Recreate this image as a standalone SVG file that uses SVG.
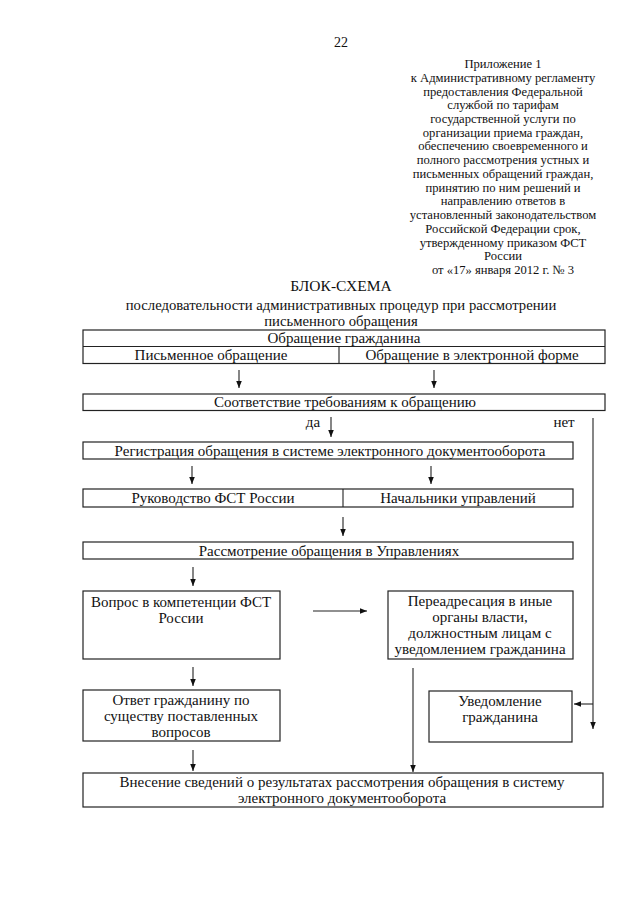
<svg xmlns="http://www.w3.org/2000/svg" width="640" height="905" viewBox="0 0 640 905">
<defs>
<marker id="ah" viewBox="0 0 8 8" refX="8" refY="4" markerWidth="7" markerHeight="7" markerUnits="userSpaceOnUse" orient="auto">
<path d="M0,0.8 L8,4 L0,7.2 Z" fill="#111"/>
</marker>
<style>
text{font-family:"Liberation Serif","Times New Roman",serif;fill:#111}
.t{font-size:15px;text-anchor:middle}
.a{font-size:12.6px;text-anchor:middle}
.b{fill:#fff;stroke:#222;stroke-width:1.2}
.c{fill:none;stroke:#222;stroke-width:1.1}
.ar{fill:none;stroke:#222;stroke-width:1.1;marker-end:url(#ah)}
</style>
</defs>
<rect width="640" height="905" fill="#fff"/>
<text x="334" y="47" style="font-size:14px">22</text>
<g id="header">
<text class="a" x="503" y="68">Приложение 1</text>
<text class="a" x="503" y="81.7">к Административному регламенту</text>
<text class="a" x="503" y="95.5">предоставления Федеральной</text>
<text class="a" x="503" y="109.2">службой по тарифам</text>
<text class="a" x="503" y="122.9">государственной услуги по</text>
<text class="a" x="503" y="136.7">организации приема граждан,</text>
<text class="a" x="503" y="150.4">обеспечению своевременного и</text>
<text class="a" x="503" y="164.1">полного рассмотрения устных и</text>
<text class="a" x="503" y="177.8">письменных обращений граждан,</text>
<text class="a" x="503" y="191.6">принятию по ним решений и</text>
<text class="a" x="503" y="205.3">направлению ответов в</text>
<text class="a" x="503" y="219">установленный законодательством</text>
<text class="a" x="503" y="232.8">Российской Федерации срок,</text>
<text class="a" x="503" y="246.5">утвержденному приказом ФСТ</text>
<text class="a" x="503" y="260.2">России</text>
<text class="a" x="503" y="274">от «17» января 2012 г. № 3</text>
</g>
<g id="title">
<text class="t" x="341" y="291" style="font-size:15.5px">БЛОК-СХЕМА</text>
<text class="t" x="341" y="309.5" style="font-size:14.7px">последовательности административных процедур при рассмотрении</text>
<text class="t" x="341" y="325.5" style="font-size:14.7px">письменного обращения</text>
</g>
<g id="connectors">
<line class="ar" x1="239" y1="370" x2="239" y2="388"/>
<line class="ar" x1="434" y1="370" x2="434" y2="388"/>
<line class="ar" x1="331" y1="417" x2="331" y2="437"/>
<line class="ar" x1="593" y1="418" x2="593" y2="729"/>
<line class="ar" x1="593" y1="704" x2="574" y2="704"/>
<line class="ar" x1="192" y1="466" x2="192" y2="484"/>
<line class="ar" x1="431" y1="466" x2="431" y2="484"/>
<line class="ar" x1="343" y1="517" x2="343" y2="536"/>
<line class="ar" x1="193" y1="567" x2="193" y2="586"/>
<line class="ar" x1="313" y1="611" x2="367" y2="611"/>
<line class="ar" x1="193" y1="667" x2="193" y2="686"/>
<line class="ar" x1="413" y1="668" x2="413" y2="772"/>
<line class="ar" x1="193" y1="750" x2="193" y2="771"/>
</g>
<g id="n-obr">
<rect class="b" x="83" y="330" width="522" height="33.5"/>
<line class="c" x1="83" y1="346.5" x2="605" y2="346.5"/>
<line class="c" x1="339" y1="346.5" x2="339" y2="363.5"/>
<text class="t" x="344" y="343">Обращение гражданина</text>
<text class="t" x="211" y="360">Письменное обращение</text>
<text class="t" x="472" y="360">Обращение в электронной форме</text>
</g>
<g id="n-sootv">
<rect class="b" x="83" y="394" width="522" height="16.5"/>
<text class="t" x="345" y="407">Соответствие требованиям к обращению</text>
</g>
<text class="t" x="313" y="427">да</text>
<text class="t" x="564" y="427">нет</text>
<g id="n-reg">
<rect class="b" x="83" y="442" width="490" height="17"/>
<text class="t" x="330" y="455.5">Регистрация обращения в системе электронного документооборота</text>
</g>
<g id="n-ruk">
<rect class="b" x="83" y="489" width="490" height="18"/>
<line class="c" x1="343" y1="489" x2="343" y2="507"/>
<text class="t" x="213" y="502.5">Руководство ФСТ России</text>
<text class="t" x="458" y="502.5">Начальники управлений</text>
</g>
<g id="n-rassm">
<rect class="b" x="83" y="542" width="490" height="17"/>
<text class="t" x="329" y="555.5">Рассмотрение обращения в Управлениях</text>
</g>
<g id="n-vopros">
<rect class="b" x="83" y="591" width="197" height="68"/>
<text class="t" x="181" y="607">Вопрос в компетенции ФСТ</text>
<text class="t" x="181" y="623">России</text>
</g>
<g id="n-pereadr">
<rect class="b" x="388" y="591" width="185" height="68"/>
<text class="t" x="480" y="606">Переадресация в иные</text>
<text class="t" x="480" y="622">органы власти,</text>
<text class="t" x="480" y="638">должностным лицам с</text>
<text class="t" x="480" y="654">уведомлением гражданина</text>
</g>
<g id="n-otvet">
<rect class="b" x="83" y="690" width="197" height="51"/>
<text class="t" x="181" y="705">Ответ гражданину по</text>
<text class="t" x="181" y="721">существу поставленных</text>
<text class="t" x="181" y="737">вопросов</text>
</g>
<g id="n-uved">
<rect class="b" x="429" y="691" width="143" height="51"/>
<text class="t" x="500" y="706">Уведомление</text>
<text class="t" x="500" y="722">гражданина</text>
</g>
<g id="n-vnes">
<rect class="b" x="83" y="773" width="520" height="34"/>
<text class="t" x="342" y="787">Внесение сведений о результатах рассмотрения обращения в систему</text>
<text class="t" x="342" y="803">электронного документооборота</text>
</g>
</svg>
